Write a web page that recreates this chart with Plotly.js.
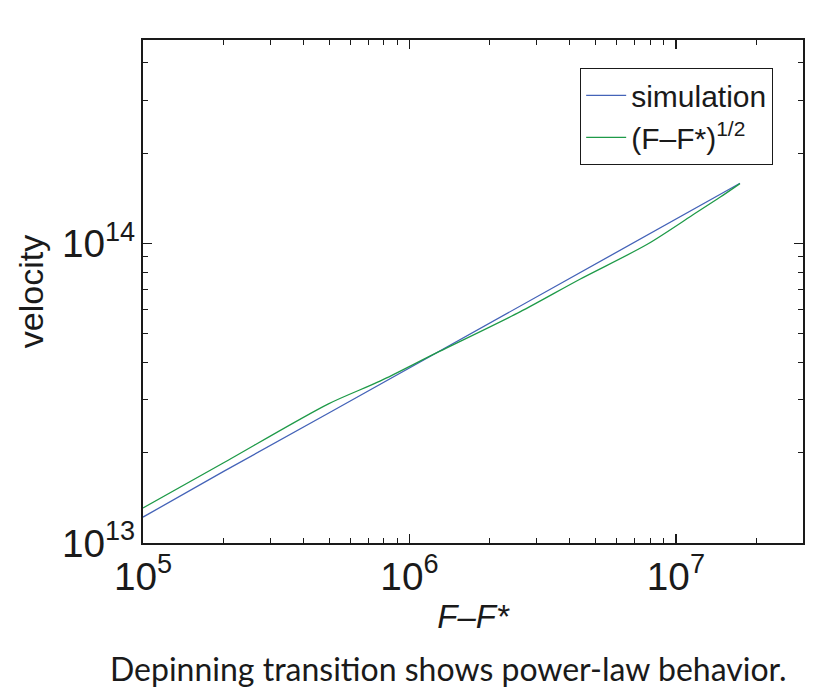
<!DOCTYPE html>
<html>
<head>
<meta charset="utf-8">
<script src="https://cdn.plot.ly/plotly-3.0.1.min.js"></script>
<style>html,body{margin:0;padding:0;background:#fff;}#chart{width:813px;height:693px;}</style>
</head>
<body>
<div id="chart"></div>
<script>
// Data
const simX = [1e5, 2e5, 5e5, 1e6, 2e6, 5e6, 1e7, 1.74e7];
const simY = [1.22e13, 1.73e13, 2.72e13, 3.84e13, 5.42e13, 8.55e13, 1.205e14, 1.585e14];

const fitX = [1e5, 2.0e5, 4.945e5, 7.75e5, 1.246e6, 2.598e6, 4.363e6, 7.78e6, 1.178e7, 1.463e7, 1.739e7];
const fitY = [1.309e13, 1.848e13, 2.906e13, 3.467e13, 4.282e13, 5.902e13, 7.586e13, 9.9e13, 1.256e14, 1.423e14, 1.581e14];

const seriesNames = ["simulation", "(F\u2013F*)<sup>1/2</sup>"];
const caption = "Depinning transition shows power-law behavior.";

const fontMain = "Liberation Sans, Arial, Helvetica, sans-serif";

const traces = [
  {x: simX, y: simY, type: "scatter", mode: "lines", name: seriesNames[0],
   line: {color: "#4463b8", width: 1.3}},
  {x: fitX, y: fitY, type: "scatter", mode: "lines", name: seriesNames[1],
   line: {color: "#1e9a48", width: 1.3, shape: "spline", smoothing: 0.8}}
];

const axisCommon = {
  type: "log",
  showgrid: false,
  zeroline: false,
  showline: true,
  linecolor: "#1a1a1a",
  linewidth: 1.6,
  mirror: "allticks",
  ticks: "inside",
  ticklen: 9,
  tickwidth: 1.2,
  tickcolor: "#1a1a1a",
  dtick: 1,
  exponentformat: "power",
  tickfont: {family: fontMain, size: 31, color: "#1a1a1a"},
  minor: {ticks: "inside", ticklen: 5, tickwidth: 1, tickcolor: "#1a1a1a", dtick: "D1", showgrid: false}
};

const layout = {
  width: 813, height: 693,
  margin: {l: 143, r: 10, t: 40, b: 150},
  paper_bgcolor: "#ffffff",
  plot_bgcolor: "#ffffff",
  showlegend: true,
  xaxis: Object.assign({}, axisCommon, {
    range: [5, 7.477],
    title: {text: "<i>F\u2013F*</i>", font: {family: fontMain, size: 33, color: "#1a1a1a"}, standoff: 6}
  }),
  yaxis: Object.assign({}, axisCommon, {
    range: [13, 14.678],
    title: {text: "velocity", font: {family: fontMain, size: 34, color: "#1a1a1a"}, standoff: 8}
  }),
  legend: {
    x: 0.9545, xanchor: "right", y: 0.944, yanchor: "top",
    bgcolor: "#ffffff", bordercolor: "#1a1a1a", borderwidth: 1.2,
    font: {family: fontMain, size: 30, color: "#1a1a1a"},
    itemwidth: 40,
    tracegroupgap: 0
  },
  annotations: [{
    text: caption, xref: "paper", yref: "paper",
    x: -0.053, y: -0.25, xanchor: "left", yanchor: "middle",
    showarrow: false,
    font: {family: "Lato, Noto Sans, sans-serif", size: 32, color: "#1a1a1a"}
  }]
};

Plotly.newPlot("chart", traces, layout, {displayModeBar: false, staticPlot: true});
</script>
</body>
</html>
